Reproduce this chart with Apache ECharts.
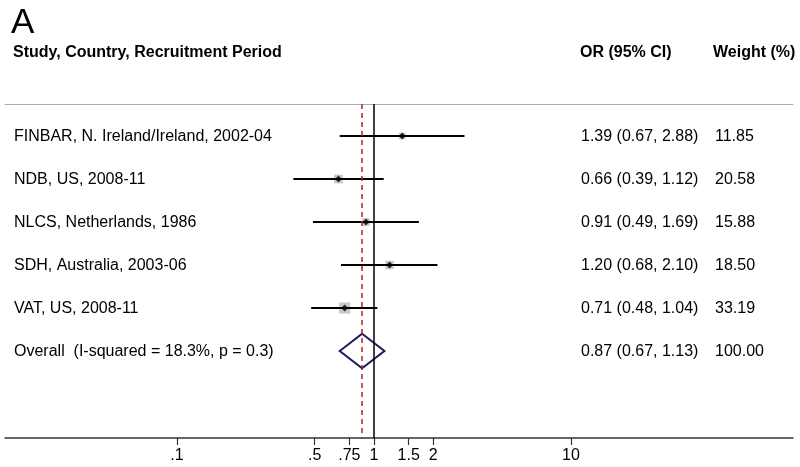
<!DOCTYPE html>
<html>
<head>
<meta charset="utf-8">
<script src="https://cdn.jsdelivr.net/npm/echarts@6/dist/echarts.min.js"></script>
<style>html,body{margin:0;padding:0;background:#fff}#c{width:800px;height:467px}</style>
</head>
<body>
<div id="c"></div>
<script>
// ---- data ----
const studies = [
  'FINBAR, N. Ireland/Ireland, 2002-04',
  'NDB, US, 2008-11',
  'NLCS, Netherlands, 1986',
  'SDH, Australia, 2003-06',
  'VAT, US, 2008-11'
];
const orValues = [1.39, 0.66, 0.91, 1.20, 0.71];
const ciLow    = [0.67, 0.39, 0.49, 0.68, 0.48];
const ciHigh   = [2.88, 1.12, 1.69, 2.10, 1.04];
const weights  = [11.85, 20.58, 15.88, 18.50, 33.19];
const overallLabel = 'Overall  (I-squared = 18.3%, p = 0.3)';
const overallOR = 0.87, overallLow = 0.67, overallHigh = 1.13, overallWeight = 100.00;
const tickValues = [0.1, 0.5, 0.75, 1, 1.5, 2, 10];
const tickLabels = ['.1', '.5', '.75', '1', '1.5', '2', '10'];

// ---- layout ----
const FONT = '"Liberation Sans", Arial, Helvetica, sans-serif';
const ROW0 = 0.744;            // first row position (in row units)
const rowY = i => ROW0 + i;
const fmt = v => v.toFixed(2);

const ciData = studies.map((s, i) => [ciLow[i], ciHigh[i], rowY(i)]);
const squareData = studies.map((s, i) => ({ value: [orValues[i], rowY(i)], symbolSize: 1.95 * Math.sqrt(weights[i]) }));
const dotData = studies.map((s, i) => [orValues[i], rowY(i)]);
const textRows = studies.map((s, i) => ({
  value: [1, rowY(i)],
  label: s,
  orText: fmt(orValues[i]) + ' (' + fmt(ciLow[i]) + ', ' + fmt(ciHigh[i]) + ')',
  wText: fmt(weights[i])
}));
textRows.push({
  value: [1, rowY(studies.length)],
  label: overallLabel,
  orText: fmt(overallOR) + ' (' + fmt(overallLow) + ', ' + fmt(overallHigh) + ')',
  wText: fmt(overallWeight)
});

const chart = echarts.init(document.getElementById('c'), null, { renderer: 'canvas' });
const xMin = 0.01339, xMax = 134;

chart.setOption({
  backgroundColor: '#fff',
  animation: false,
  textStyle: { fontFamily: FONT },
  graphic: [
    { type: 'text', left: 11, top: 6, style: { text: 'A', font: '35px ' + FONT, fill: '#000' } },
    { type: 'text', left: 13, top: 45, style: { text: 'Study, Country, Recruitment Period', font: 'bold 16px ' + FONT, fill: '#000' } },
    { type: 'text', left: 580, top: 45, style: { text: 'OR (95% CI)', font: 'bold 16px ' + FONT, fill: '#000' } },
    { type: 'text', left: 713, top: 45, style: { text: 'Weight (%)', font: 'bold 16px ' + FONT, fill: '#000' } }
  ],
  grid: { left: 5, right: 7, top: 104, bottom: 29, containLabel: false },
  xAxis: [
    {
      type: 'log', logBase: 10, min: xMin, max: xMax, position: 'bottom',
      axisLine: { onZero: false, lineStyle: { color: '#333', width: 1.5 } },
      axisTick: { customValues: tickValues, length: 7, lineStyle: { color: '#333', width: 1.2 } },
      axisLabel: {
        customValues: tickValues, color: '#000', fontSize: 16, fontFamily: FONT, margin: 10,
        formatter: v => { const k = tickValues.findIndex(t => Math.abs(t - v) < 1e-9); return k >= 0 ? tickLabels[k] : ''; }
      },
      splitLine: { show: false }, minorTick: { show: false }
    },
    {
      type: 'log', logBase: 10, min: xMin, max: xMax, position: 'top',
      axisLine: { onZero: false, lineStyle: { color: '#aaa', width: 1 } },
      axisTick: { show: false }, axisLabel: { show: false }, splitLine: { show: false }
    }
  ],
  yAxis: { type: 'value', min: 0, max: 7.767, inverse: true, show: false, splitLine: { show: false } },
  series: [
    {
      type: 'custom', name: 'ci', xAxisIndex: 0, data: ciData, z: 3,
      renderItem: (params, api) => {
        const a = api.coord([api.value(0), api.value(2)]);
        const b = api.coord([api.value(1), api.value(2)]);
        return { type: 'line', shape: { x1: a[0], y1: a[1], x2: b[0], y2: b[1] }, style: { stroke: '#000', lineWidth: 2 } };
      },
      markLine: {
        silent: true, symbol: ['none', 'none'], label: { show: false },
        data: [
          { xAxis: 1, lineStyle: { color: '#000', width: 1.5, type: 'solid' } },
          { xAxis: overallOR, lineStyle: { color: '#b22222', width: 1.5, type: [5, 4] } }
        ]
      }
    },
    {
      type: 'scatter', name: 'weight', data: squareData, symbol: 'rect', z: 2,
      itemStyle: { color: '#bdbdbd' }
    },
    {
      type: 'scatter', name: 'or', data: dotData, symbol: 'diamond', symbolSize: 7, z: 4,
      itemStyle: { color: '#000' }
    },
    {
      type: 'custom', name: 'overall', data: [[overallLow, overallOR, overallHigh, rowY(studies.length)]], z: 4,
      renderItem: (params, api) => {
        const y = api.value(3);
        const l = api.coord([api.value(0), y]);
        const c = api.coord([api.value(1), y]);
        const r = api.coord([api.value(2), y]);
        const h = 17.3;
        return {
          type: 'polygon',
          shape: { points: [[l[0], l[1]], [c[0], c[1] - h], [r[0], r[1]], [c[0], c[1] + h]] },
          style: { fill: 'none', stroke: '#1b1b5e', lineWidth: 2 }
        };
      }
    },
    {
      type: 'custom', name: 'text', data: textRows.map(t => t.value), z: 5,
      renderItem: (params, api) => {
        const t = textRows[params.dataIndex];
        const p = api.coord([1, api.value(1)]);
        const gx = params.coordSys.x;
        const base = { fill: '#000', font: '16px ' + FONT, textVerticalAlign: 'middle', verticalAlign: 'middle' };
        return {
          type: 'group',
          children: [
            { type: 'text', style: Object.assign({}, base, { text: t.label, x: gx + 9, y: p[1] + 1 }) },
            { type: 'text', style: Object.assign({}, base, { text: t.orText, x: gx + 576, y: p[1] + 1 }) },
            { type: 'text', style: Object.assign({}, base, { text: t.wText, x: gx + 710, y: p[1] + 1 }) }
          ]
        };
      }
    }
  ]
});
</script>
</body>
</html>
